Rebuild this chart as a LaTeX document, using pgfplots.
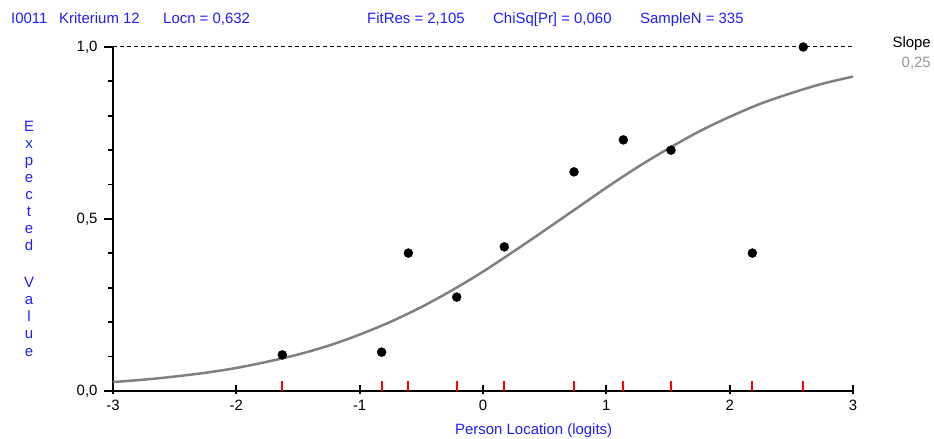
\documentclass[border=0pt]{standalone}
\usepackage{fontspec}
\setmainfont{Liberation Sans}
\usepackage{pgfplots}
\pgfplotsset{compat=1.18}
\definecolor{hdrblue}{RGB}{30,30,255}
\definecolor{curvegray}{RGB}{128,128,128}
\definecolor{slopegray}{RGB}{150,150,150}

\begin{document}
\begin{tikzpicture}[font=\fontsize{15}{18}\selectfont]
\path[use as bounding box] (-113bp,-48bp) rectangle (821bp,391bp);
\begin{axis}[
    at={(0,0)}, anchor=south west,
    scale only axis,
    width=740bp, height=344bp,
    xmin=-3, xmax=3, ymin=0, ymax=1,
    axis lines=left,
    axis line style={-, black},
    x axis line style={line width=2.8bp},
    y axis line style={line width=2.8bp},
    clip=false,
    xtick={-3,-2,-1,0,1,2,3},
    xticklabels={-3,-2,-1,0,1,2,3},
    ytick={0,0.5,1},
    yticklabels={{0,0},{0,5},{1,0}},
    minor ytick={0.1,0.2,0.3,0.4,0.6,0.7,0.8,0.9},
    xtick pos=bottom, ytick pos=left,
    tick align=outside,
    major tick length=9bp, minor tick length=5bp,
    every tick/.style={black, line width=1.8bp},
    every major x tick/.style={black, line width=1.8bp, yshift=6bp},
    x tick label style={yshift=3bp},
    y tick label style={xshift=-3bp},
]
% upper bound line
\addplot[black, line width=1bp, dash pattern=on 4bp off 3bp] coordinates {(-3,1) (3,1)};
% class interval locations
\addplot[red, ycomb, line width=2.2bp, mark=none] coordinates {
    (-1.627,0.029) (-0.822,0.029) (-0.605,0.029) (-0.213,0.029) (0.173,0.029)
    (0.738,0.029) (1.138,0.029) (1.524,0.029) (2.184,0.029) (2.597,0.029)
};
% expected value curve
\addplot[curvegray, line width=2.5bp, smooth] coordinates {
    (-3.00,0.026) (-2.75,0.033) (-2.50,0.042) (-2.25,0.053) (-2.00,0.067)
    (-1.75,0.085) (-1.50,0.106) (-1.25,0.132) (-1.00,0.164) (-0.75,0.201)
    (-0.50,0.244) (-0.25,0.293) (0.00,0.347) (0.25,0.406) (0.50,0.467)
    (0.75,0.529) (1.00,0.591) (1.25,0.650) (1.50,0.704) (1.75,0.754)
    (2.00,0.797) (2.25,0.835) (2.50,0.866) (2.75,0.893) (3.00,0.914)
};
% observed class means
\addplot[only marks, mark=*, mark size=4.5bp, black] coordinates {
    (-1.627,0.105) (-0.822,0.113) (-0.605,0.401) (-0.213,0.273) (0.173,0.419)
    (0.738,0.637) (1.138,0.730) (1.524,0.700) (2.184,0.401) (2.597,1.000)
};
\end{axis}

% header
\begin{scope}[text=hdrblue]
\node[anchor=base west, inner sep=0] at (-102bp,367bp) {I0011};
\node[anchor=base west, inner sep=0] at (-54bp,367bp) {Kriterium 12};
\node[anchor=base west, inner sep=0] at (50bp,367bp) {Locn = 0,632};
\node[anchor=base west, inner sep=0] at (254bp,367bp) {FitRes = 2,105};
\node[anchor=base west, inner sep=0] at (380bp,367bp) {ChiSq[Pr] = 0,060};
\node[anchor=base west, inner sep=0] at (527bp,367bp) {SampleN = 335};
\end{scope}

% slope
\node[anchor=base east, inner sep=0] at (818bp,343bp) {Slope};
\node[anchor=base east, inner sep=0, text=slopegray] at (818bp,323bp) {0,25};

% x label
\node[anchor=base west, inner sep=0, text=hdrblue] at (342bp,-43bp) {Person Location (logits)};

% y label, one letter per line
\foreach \ch/\yy in {E/259, x/242, p/225, e/208, c/191, t/174, e/157, d/140,
                     V/103, a/86, l/69, u/52, e/35} {
  \node[anchor=base, inner sep=0, text=hdrblue] at (-84bp,\yy bp) {\ch};
}
\end{tikzpicture}
\end{document}
